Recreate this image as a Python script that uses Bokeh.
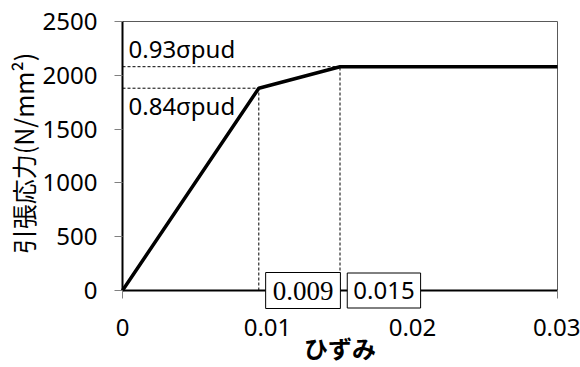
import math
from bokeh.plotting import figure
from bokeh.models import Label, FixedTicker, Range1d
from bokeh.core.properties import value
from bokeh.embed import file_html
from bokeh.resources import INLINE

# data
strain = [0.0, 0.0094, 0.015, 0.03]
stress = [0.0, 1880.0, 2080.0, 2080.0]
knee_strain = [0.0094, 0.015]
knee_stress = [1880.0, 2080.0]
knee_names = ["0.84σpud", "0.93σpud"]
box_labels = ["0.009", "0.015"]
box_centers = [0.01245, 0.01803]
x_ticks = [0, 0.01, 0.02, 0.03]
x_tick_labels = ["0", "0.01", "0.02", "0.03"]
y_ticks = [0, 500, 1000, 1500, 2000, 2500]
y_tick_labels = ["0", "500", "1000", "1500", "2000", "2500"]
x_title = "ひずみ"
y_title = "引張応力(N/mm²)"

W, H = 580, 367
left, right = 122, 557           # screen columns of x=0 and x=0.03
top, bottom = 21, 290            # screen rows of y=2500 and y=0
x_max = x_ticks[-1]
y_max = y_ticks[-1]
px_x = x_max / (right - left)
px_y = y_max / (bottom - top)

# the frame covers the whole page; axes are pinned at the data origin
p = figure(width=W, height=H,
           x_range=Range1d(-left * px_x, x_max + (W - right) * px_x),
           y_range=Range1d(-(H - bottom) * px_y, y_max + top * px_y),
           output_backend="svg", toolbar_location=None,
           min_border_left=0, min_border_right=0, min_border_top=0, min_border_bottom=0)
p.xgrid.visible = False
p.ygrid.visible = False
p.outline_line_color = None

for ax in (p.xaxis[0], p.yaxis[0]):
    ax.axis_line_color = "black"
    ax.axis_line_width = 2
    ax.major_tick_line_color = "#808080"
    ax.major_tick_in = 0
    ax.major_tick_out = 8
    ax.minor_tick_line_color = None
    ax.major_label_text_font = "Noto Sans"
    ax.major_label_text_font_size = "24px"
    ax.major_label_text_color = "black"
    ax.axis_label_text_color = "black"
    ax.axis_label_text_font = "Noto Sans CJK JP"

p.xaxis.fixed_location = 0
p.yaxis.fixed_location = 0
p.xaxis.bounds = (0, x_max)
p.yaxis.bounds = (0, y_max)
p.xaxis.ticker = FixedTicker(ticks=x_ticks)
p.xaxis.major_label_overrides = {t: s for t, s in zip(x_ticks, x_tick_labels)}
p.yaxis.ticker = FixedTicker(ticks=y_ticks)
p.yaxis.major_label_text_color = None
p.xaxis.major_label_standoff = 20

p.xaxis.axis_label = x_title
p.xaxis.axis_label_text_font_style = "bold"
p.xaxis.axis_label_text_font_size = "24px"
p.xaxis.axis_label_standoff = -9

# y tick labels (left-anchored; Noto Sans digits are 0.572 em wide) and title
digit_w = 0.572 * 24
p.text(x=[-(25 + len(s) * digit_w) * px_x for s in y_tick_labels], y=y_ticks, text=y_tick_labels,
       text_font=value("Noto Sans"), text_font_size="24px", text_color="black",
       text_align="left", text_baseline="middle")
p.add_layout(Label(x=-100 * px_x, y=(bottom - 153) * px_y, text=y_title, angle=math.pi / 2,
                   text_font="Noto Sans CJK JP", text_font_size="25px", text_color="black",
                   text_align="center", text_baseline="middle"))

# top and right frame lines
p.segment(x0=[0, x_max], y0=[y_max, 0], x1=[x_max, x_max], y1=[y_max, y_max],
          line_color="#595959", line_width=1)

# dashed guide lines
dash = "3 2"
p.segment(x0=[0, 0], y0=knee_stress, x1=knee_strain, y1=knee_stress,
          line_color="black", line_width=1, line_dash=dash)
p.segment(x0=knee_strain, y0=[0, 0], x1=knee_strain, y1=knee_stress,
          line_color="black", line_width=1, line_dash=dash)

# main curve
p.line(strain, stress, line_color="black", line_width=3.5)

# labels for levels
p.add_layout(Label(x=6 * px_x, y=knee_stress[1] + 18 * px_y, text=knee_names[1],
                   text_font="Noto Sans", text_font_size="24px", text_color="black",
                   text_baseline="middle", text_align="left"))
p.add_layout(Label(x=6 * px_x, y=knee_stress[0] - 17 * px_y, text=knee_names[0],
                   text_font="Noto Sans", text_font_size="24px", text_color="black",
                   text_baseline="middle", text_align="left"))

# boxed values on the x axis
p.add_layout(Label(x=box_centers[0], y=0, text=box_labels[0],
                   text_font="Liberation Serif", text_font_size="27px", text_color="black",
                   text_baseline="middle", text_align="center",
                   padding=dict(left=7, right=7, top=9, bottom=9),
                   border_line_color="black", border_line_width=1,
                   background_fill_color="white"))
p.add_layout(Label(x=box_centers[1], y=0, text=box_labels[1],
                   text_font="Noto Sans", text_font_size="24px", text_color="black",
                   text_baseline="middle", text_align="center",
                   padding=dict(left=6, right=6, top=9, bottom=9),
                   border_line_color="black", border_line_width=1,
                   background_fill_color="white"))

open("out.html", "w").write(file_html(p, INLINE))
